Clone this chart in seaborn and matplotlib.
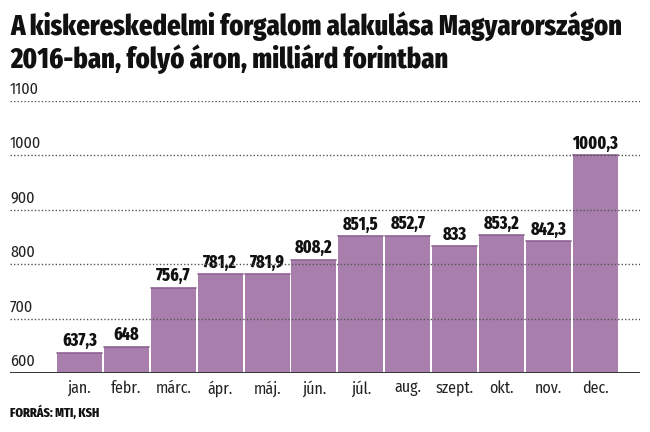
import matplotlib
matplotlib.use("Agg")
import matplotlib.pyplot as plt
import matplotlib.transforms as mtransforms
import pandas as pd
import seaborn as sns

months = ["jan.", "febr.", "márc.", "ápr.", "máj.", "jún.", "júl.", "aug.", "szept.", "okt.", "nov.", "dec."]
values = [637.3, 648, 756.7, 781.2, 781.9, 808.2, 851.5, 852.7, 833, 853.2, 842.3, 1000.3]
value_labels = ["637,3", "648", "756,7", "781,2", "781,9", "808,2", "851,5", "852,7", "833", "853,2", "842,3", "1000,3"]
y_ticks = [600, 700, 800, 900, 1000, 1100]

title = "A kiskereskedelmi forgalom alakulása Magyarországon\n2016-ban, folyó áron, milliárd forintban"
source = "FORRÁS: MTI, KSH"

bar_color = "#a87fac"
edge_color = "#8f6494"
heavy = ["Fira Sans Extra Condensed", "DejaVu Sans"]
light = ["Fira Sans Condensed", "DejaVu Sans"]

sns.set_style("white")
plt.rcParams["font.family"] = light

df = pd.DataFrame({"month": months, "value": values})

fig = plt.figure(figsize=(6.5, 4.32), dpi=100)
ax = fig.add_axes([10 / 650, 59 / 432, 630 / 650, 272 / 432])

sns.barplot(data=df, x="month", y="value", color=bar_color, saturation=1,
            width=0.96, ax=ax, zorder=2)
for p in ax.patches:
    p.set_edgecolor("none")
    ax.plot([p.get_x(), p.get_x() + p.get_width()], [p.get_height()] * 2,
            color=edge_color, lw=1.2, zorder=3)

ax.set_ylim(600, 1100)
ax.set_xlim(-1.48, 11.95)
for s in ax.spines.values():
    s.set_visible(False)
ax.set_xlabel("")
ax.set_ylabel("")
ax.set_yticks([])
ax.tick_params(axis="x", length=0, pad=5, labelsize=11.5, colors="#222222")

# dotted gridlines drawn over the bars
for t in y_ticks[1:]:
    ax.axhline(t, color="#555555", lw=1, ls=(0, (1, 1.5)), zorder=4)
ax.axhline(600, color="#333333", lw=1.4, zorder=4)

trans = mtransforms.blended_transform_factory(ax.transAxes, ax.transData)
for t in y_ticks:
    ax.text(0.0, t + 7, str(t), transform=trans, ha="left", va="bottom",
            fontsize=11.5, color="#222222")

for i, (v, lab) in enumerate(zip(values, value_labels)):
    ax.text(i, v + 5, lab, ha="center", va="bottom", fontsize=12.5,
            fontweight="heavy", family=heavy, color="#111111")

fig.text(10 / 650, 1 - 12 / 432, title, ha="left", va="top", fontsize=20.7,
         fontweight="heavy", family=heavy, color="#111111", linespacing=1.15)
fig.text(10 / 650, 1 - 412 / 432, source, ha="left", va="center", fontsize=9.5,
         fontweight="heavy", family=heavy, color="#111111")

fig.savefig("out.png", dpi=100)
